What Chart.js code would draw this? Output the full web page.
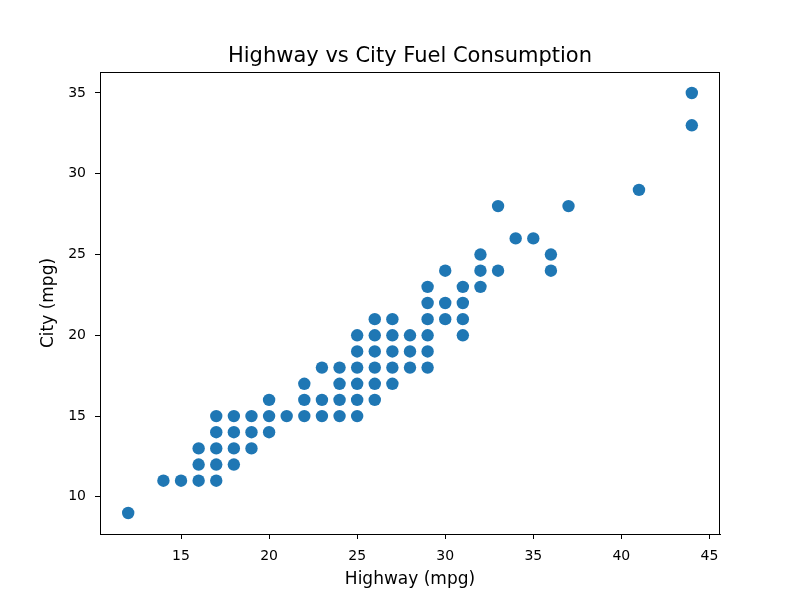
<!DOCTYPE html>
<html>
<head>
<meta charset="utf-8">
<script src="https://cdn.jsdelivr.net/npm/chart.js@4"></script>
<style>
  html, body { margin: 0; padding: 0; background: #fff; }
  #wrap { width: 800px; height: 600px; }
</style>
</head>
<body>
<div id="wrap"><canvas id="chart" width="800" height="600"></canvas></div>
<script>
// unique (highway, city) pairs
const hwy = [12, 14, 15, 16, 17, 16, 17, 18, 16, 17, 18, 19, 17, 18, 19, 20,
    17, 18, 19, 20, 21, 22, 23, 24, 25, 20, 22, 23, 24, 25, 26,
    22, 24, 25, 26, 27, 23, 24, 25, 26, 27, 28, 29,
    25, 26, 27, 28, 29, 25, 26, 27, 28, 29, 31,
    26, 27, 29, 30, 31, 29, 30, 31, 29, 31, 32,
    30, 32, 33, 36, 32, 36, 34, 35, 33, 37, 41, 44, 44];
const cty = [9, 11, 11, 11, 11, 12, 12, 12, 13, 13, 13, 13, 14, 14, 14, 14,
    15, 15, 15, 15, 15, 15, 15, 15, 15, 16, 16, 16, 16, 16, 16,
    17, 17, 17, 17, 17, 18, 18, 18, 18, 18, 18, 18,
    19, 19, 19, 19, 19, 20, 20, 20, 20, 20, 20,
    21, 21, 21, 21, 21, 22, 22, 22, 23, 23, 23,
    24, 24, 24, 24, 25, 25, 26, 26, 28, 28, 29, 33, 35];
const xTicks = [15, 20, 25, 30, 35, 40, 45];
const yTicks = [10, 15, 20, 25, 30, 35];

const FONT = "'DejaVu Sans', sans-serif";
Chart.defaults.font.family = FONT;
Chart.defaults.color = '#000';

const points = hwy.map((h, i) => ({ x: h, y: cty[i] }));

// box round the axes + title over the plot area
const framePlugin = {
    id: 'frame',
    afterDraw(chart) {
        const { ctx, chartArea: a } = chart;
        ctx.save();
        ctx.strokeStyle = '#000';
        ctx.lineWidth = 1;
        ctx.strokeRect(a.left + 0.5, a.top + 0.5, a.right - a.left - 1, a.bottom - a.top);
        ctx.fillStyle = '#000';
        ctx.font = '21px ' + FONT;
        ctx.textAlign = 'center';
        ctx.textBaseline = 'alphabetic';
        ctx.fillText('Highway vs City Fuel Consumption', (a.left + a.right) / 2, a.top - 10);
        ctx.restore();
    }
};

new Chart(document.getElementById('chart'), {
    type: 'scatter',
    data: {
        datasets: [{
            data: points,
            backgroundColor: '#1f77b4',
            borderWidth: 0,
            pointRadius: 6.2,
            pointHoverRadius: 6.2
        }]
    },
    options: {
        responsive: false,
        animation: false,
        layout: { padding: { top: 72, right: 80, bottom: 0, left: 0 } },
        plugins: { legend: { display: false }, tooltip: { enabled: false } },
        scales: {
            x: {
                type: 'linear',
                min: 10.4,
                max: 45.6,
                afterBuildTicks: s => { s.ticks = xTicks.map(v => ({ value: v })); },
                afterFit: s => { s.height = 66; },
                grid: { drawOnChartArea: false, drawTicks: true, tickLength: 5, tickColor: '#000' },
                border: { display: true, color: '#000' },
                ticks: { font: { size: 14 }, padding: 9, maxRotation: 0 },
                title: { display: true, text: 'Highway (mpg)', font: { size: 17 }, padding: { top: 10, bottom: 10 } }
            },
            y: {
                type: 'linear',
                min: 7.7,
                max: 36.3,
                afterBuildTicks: s => { s.ticks = yTicks.map(v => ({ value: v })); },
                afterFit: s => { s.width = 100; },
                grid: { drawOnChartArea: false, drawTicks: true, tickLength: 5, tickColor: '#000' },
                border: { display: true, color: '#000' },
                ticks: { font: { size: 14 }, padding: 9 },
                title: { display: true, text: 'City (mpg)', font: { size: 17 }, padding: { top: 38, bottom: 38 } }
            }
        }
    },
    plugins: [framePlugin]
});
</script>
</body>
</html>
